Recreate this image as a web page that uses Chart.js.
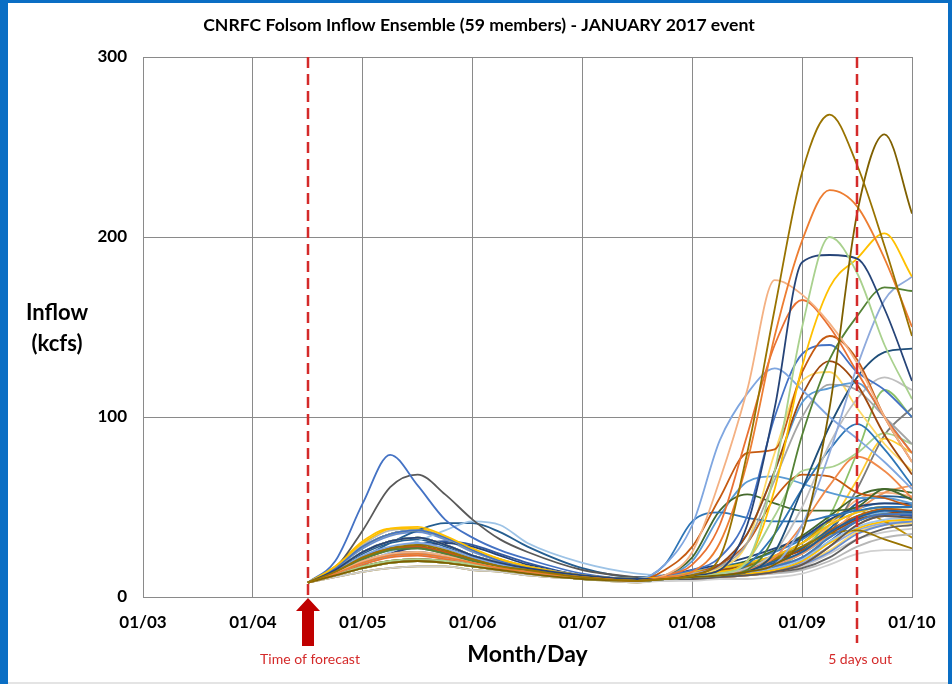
<!DOCTYPE html>
<html>
<head>
<meta charset="utf-8">
<script src="https://cdn.jsdelivr.net/npm/chart.js@4.4.1/dist/chart.umd.min.js"></script>
<style>
  html, body { margin: 0; padding: 0; background: #fff; }
</style>
</head>
<body>
<canvas id="ensembleChart" width="952" height="684"></canvas>
<script>
// days since 01/03 00:00 (forecast issued 01/04 12:00)
const times = [1.5, 1.75, 2.0, 2.25, 2.5, 2.75, 3.0, 3.25, 3.5, 4.0, 4.5,
               4.75, 5.0, 5.25, 5.5, 5.75, 6.0, 6.25, 6.5, 6.75, 7.0];
const tickLabels = ['01/03', '01/04', '01/05', '01/06', '01/07', '01/08', '01/09', '01/10'];
const forecastDay = 1.5;
const fiveDaysOutDay = 6.5;

// members that peak above ~150 kcfs
const peakMembers = [
  [8,14,22,27,29,26,21,17,15,11,9, 10,12,22,80,160,236,268,240,195,145],
  [8,12,16,19,20,19,17,15,13,10,9, 10,11,12,14,18,35,105,213,257,213],
  [8,13,19,23,24,22,19,16,14,11,9, 11,14,30,75,145,198,226,217,188,150],
  [8,12,17,20,21,20,18,15,13,10,9, 10,11,13,20,70,150,200,180,140,110],
  [8,15,25,31,33,29,23,19,16,12,10, 10,12,15,40,105,186,190,188,160,120],
  [8,13,20,24,25,23,19,16,14,11,9, 12,25,65,115,176,168,152,130,100,75],
  [8,17,30,38,39,34,27,21,17,12,10, 11,12,14,20,60,128,172,188,202,178],
  [8,14,21,26,27,24,20,17,15,11,9, 10,11,12,15,35,90,132,156,172,170],
  [8,13,19,23,24,22,19,16,14,11,9, 10,11,12,14,18,40,80,128,165,178],
  [8,12,18,22,23,21,18,16,14,11,9, 12,18,40,90,140,165,150,125,100,80]
];
const peakColors = ['#997300', '#7F6000', '#ED7D31', '#A9D18E', '#264478',
                    '#F4B183', '#FFC000', '#548235', '#8FAADC', '#E97132'];

// members peaking between ~45 and ~145 kcfs, plus the early-peak ones
const midMembers = [
  [8,14,23,28,30,27,22,18,15,11,10, 18,40,87,113,127,115,100,88,75,60],
  [8,14,22,27,28,25,21,17,15,11,9, 15,28,55,80,82,125,145,132,100,75],
  [8,12,17,20,21,20,18,15,13,10,9, 10,12,18,35,70,112,131,118,90,68],
  [8,16,28,35,37,33,26,20,17,12,10, 12,15,22,45,100,135,140,125,115,100],
  [8,13,19,23,25,23,20,17,14,11,9, 10,12,18,35,70,108,116,119,100,80],
  [8,14,22,27,28,25,21,17,15,11,9, 10,11,12,14,25,60,95,122,136,138],
  [8,15,25,31,33,29,23,19,16,12,10, 11,13,17,30,65,100,118,115,100,85],
  [8,13,19,23,24,22,19,16,14,11,9, 10,11,13,16,25,50,85,110,122,115],
  [8,16,28,35,37,33,26,20,17,12,10, 11,13,16,30,80,120,125,105,85,70],
  [8,14,22,27,28,25,21,17,15,11,9, 10,11,13,18,35,60,82,96,82,62],
  [8,13,19,23,24,22,19,16,14,11,9, 10,11,12,15,22,40,62,78,70,55],
  [8,12,16,19,20,19,17,15,13,10,9, 10,11,13,20,45,70,72,80,91,85],
  [8,16,28,35,37,33,26,20,17,12,10, 18,42,47,44,42,42,45,48,50,50],
  [8,13,19,23,24,22,19,16,14,11,9, 12,22,48,57,52,48,48,50,60,54],
  [8,14,22,27,28,25,21,17,15,11,9, 11,13,18,30,55,68,67,58,55,50],
  [8,15,25,31,33,29,23,19,16,12,10, 12,20,45,64,67,63,58,55,55,52],
  [8,20,52,79,62,43,33,26,21,13,10, 10,11,12,14,17,22,33,42,46,46],
  [8,16,37,61,68,57,43,32,25,15,11, 10,10,11,12,14,18,28,40,45,44],
  [8,13,19,25,31,37,42,40,30,19,13, 12,12,13,14,16,21,31,39,43,44],
  [8,14,22,30,37,41,41,36,28,16,11, 11,12,13,15,19,25,36,44,48,47],
  [8,17,31,38,38,33,26,21,17,12,10, 12,14,16,19,23,30,40,47,50,50]
];
const midColors = ['#7FA6E0', '#C55A11', '#9E480E', '#4472C4', '#5B9BD5',
                   '#1F4E79', '#A5A5A5', '#BFBFBF', '#FFD966', '#2E75B6',
                   '#F08A4B', '#A9D18E', '#2E75B6', '#43682B', '#C55A11',
                   '#5B9BD5', '#4472C4', '#595959', '#9DC3E6', '#255E91',
                   '#FFC000'];

// the main bundle
const bulkMembers = [
  [8,11,14,16,17,17,15,14,12,10,8, 9,9,10,10,11,13,18,24,26,26],
  [8,11,14,16,17,17,15,14,12,10,8, 10,12,14,17,21,28,35,37,32,27],
  [8,13,19,23,24,22,19,16,14,11,9, 11,12,13,15,19,25,36,44,48,47],
  [8,14,22,27,28,25,21,17,15,11,9, 10,10,11,12,14,18,28,40,45,44],
  [8,12,16,19,20,19,17,15,13,10,9, 10,11,12,14,17,22,33,42,46,46],
  [8,15,25,31,33,29,23,19,16,12,10, 10,11,12,13,15,20,30,38,42,43],
  [8,16,28,35,37,33,26,20,17,12,10, 12,14,16,19,23,30,40,47,50,50],
  [8,12,18,24,28,30,28,23,18,12,10, 12,15,18,22,27,33,43,50,52,52],
  [8,13,20,24,25,22,19,16,14,11,9, 11,13,15,17,21,26,35,43,46,48],
  [8,14,21,26,27,24,20,17,15,11,9, 10,11,12,13,14,16,22,32,38,40],
  [8,15,24,30,32,28,23,19,16,12,10, 11,12,14,16,20,27,38,52,56,55],
  [8,12,17,20,21,20,17,15,13,10,9, 11,13,16,20,26,34,45,56,60,58],
  [8,16,27,34,36,32,25,20,17,12,10, 10,11,12,13,15,18,25,35,40,42],
  [8,13,19,23,24,22,19,16,14,11,9, 10,11,13,15,18,24,35,48,58,62],
  [8,17,29,37,38,33,26,21,17,12,10, 9,10,11,12,13,15,20,28,33,35],
  [8,14,22,27,28,25,21,17,15,11,9, 10,11,12,14,18,25,40,65,88,80],
  [8,15,25,31,33,29,23,19,16,12,10, 11,12,13,15,18,24,34,43,47,47],
  [8,13,19,23,24,22,19,16,14,11,9, 10,11,12,14,17,25,45,80,115,100],
  [8,12,18,24,29,31,29,24,19,12,10, 10,11,12,13,16,21,31,42,46,45],
  [8,12,16,19,20,19,17,15,13,10,9, 11,12,14,16,20,27,37,45,49,48],
  [8,16,28,35,37,33,26,20,17,12,10, 10,11,12,13,15,20,35,60,90,105],
  [8,14,22,27,28,25,21,17,15,11,9, 11,13,15,18,22,30,42,48,42,33],
  [8,13,19,23,24,22,19,16,14,11,9, 12,14,17,20,25,32,42,49,52,51],
  [8,15,25,31,33,29,23,19,16,12,10, 11,13,15,18,22,28,37,45,49,50],
  [8,12,16,19,20,19,17,15,13,10,9, 10,11,12,13,15,19,28,37,41,42],
  [8,14,22,27,28,25,21,17,15,11,9, 11,12,14,17,21,28,40,54,58,56],
  [8,13,19,23,24,22,19,16,14,11,9, 10,10,11,12,14,17,24,32,36,38],
  [8,16,28,35,37,33,26,20,17,12,10, 10,11,12,13,15,18,26,36,40,41]
];
const bulkColors = ['#D0D0D0', '#997300', '#4472C4', '#ED7D31', '#70AD47',
                    '#FFC000', '#5B9BD5', '#264478', '#9E480E', '#636363',
                    '#255E91', '#43682B', '#698ED0', '#F1975A', '#B7B7B7',
                    '#FFCD33', '#7CAFDD', '#8CC168', '#335AA1', '#BC5B0C',
                    '#7C7C7C', '#BF9000', '#327DC2', '#5A8A39', '#8FAADC',
                    '#F4B183', '#C9C9C9', '#FFD966'];

const FONT = "Lato, 'Open Sans', sans-serif";
const gridColor = '#8A8A8A';
const red = '#D42A2A';

const datasets = [];
function addMembers(rows, colors) {
    rows.forEach((row, i) => {
        datasets.push({
            data: row.map((v, j) => ({ x: times[j], y: v })),
            borderColor: colors[i],
            borderWidth: 1.8,
            pointRadius: 0,
            fill: false,
            cubicInterpolationMode: 'monotone'
        });
    });
}
addMembers(peakMembers, peakColors);
addMembers(midMembers, midColors);
addMembers(bulkMembers, bulkColors);

const decorations = {
    id: 'decorations',
    beforeDraw(chart) {
        const ctx = chart.ctx;
        ctx.save();
        ctx.fillStyle = '#ffffff';
        ctx.fillRect(0, 0, chart.width, chart.height);
        ctx.restore();
    },
    afterDatasetsDraw(chart) {
        const ctx = chart.ctx;
        const area = chart.chartArea;
        const x = chart.scales.x;
        ctx.save();
        ctx.strokeStyle = red;
        ctx.lineWidth = 2.5;
        ctx.setLineDash([11, 6]);
        let px = Math.round(x.getPixelForValue(forecastDay));
        ctx.beginPath();
        ctx.moveTo(px, area.top);
        ctx.lineTo(px, area.bottom);
        ctx.stroke();
        px = Math.round(x.getPixelForValue(fiveDaysOutDay));
        ctx.beginPath();
        ctx.moveTo(px, area.top);
        ctx.lineTo(px, area.bottom + 46);
        ctx.stroke();
        ctx.restore();
    },
    afterDraw(chart) {
        const ctx = chart.ctx;
        const area = chart.chartArea;
        const x = chart.scales.x;
        ctx.save();

        // title
        ctx.fillStyle = '#000';
        ctx.textAlign = 'center';
        ctx.textBaseline = 'middle';
        ctx.font = 'bold 17.6px ' + FONT;
        ctx.fillText('CNRFC Folsom Inflow Ensemble (59 members) - JANUARY 2017 event', 479, 25);

        // axis titles
        ctx.font = 'bold 22px ' + FONT;
        ctx.fillText('Inflow', 57, 313);
        ctx.fillText('(kcfs)', 57, 344);
        ctx.font = 'bold 23px ' + FONT;
        ctx.fillText('Month/Day', (area.left + area.right) / 2, 655);

        // forecast arrow
        const fx = Math.round(x.getPixelForValue(forecastDay));
        const tip = area.bottom + 1;
        ctx.fillStyle = '#C00000';
        ctx.beginPath();
        ctx.moveTo(fx, tip);
        ctx.lineTo(fx + 12, tip + 13);
        ctx.lineTo(fx + 6, tip + 13);
        ctx.lineTo(fx + 6, tip + 48);
        ctx.lineTo(fx - 6, tip + 48);
        ctx.lineTo(fx - 6, tip + 13);
        ctx.lineTo(fx - 12, tip + 13);
        ctx.closePath();
        ctx.fill();

        ctx.fillStyle = red;
        ctx.font = '14px ' + FONT;
        ctx.fillText('Time of forecast', fx + 2, 659);
        ctx.fillText('5 days out', x.getPixelForValue(fiveDaysOutDay) + 3, 659);

        // slide frame
        ctx.fillStyle = '#0A6EC4';
        ctx.fillRect(0, 0, 8, chart.height);
        ctx.fillRect(0, 0, chart.width, 3);
        ctx.fillRect(chart.width - 4, 0, 4, chart.height);
        ctx.fillStyle = '#E4E4E4';
        ctx.fillRect(8, chart.height - 2, chart.width - 12, 2);
        ctx.restore();
    }
};

const ctx = document.getElementById('ensembleChart').getContext('2d');
const myChart = new Chart(ctx, {
    type: 'line',
    data: { datasets: datasets },
    options: {
        responsive: false,
        animation: false,
        layout: { padding: { left: 0, right: 40, top: 57, bottom: 0 } },
        plugins: {
            legend: { display: false },
            tooltip: { enabled: false },
            title: { display: false }
        },
        scales: {
            x: {
                type: 'linear',
                min: 0,
                max: 7,
                afterFit: scale => { scale.height = 87; },
                ticks: {
                    stepSize: 1,
                    padding: 15,
                    color: '#000',
                    font: { family: FONT, size: 17, weight: 'bold' },
                    callback: value => tickLabels[value]
                },
                grid: { color: gridColor, lineWidth: 1, drawTicks: false },
                border: { color: gridColor, width: 1 }
            },
            y: {
                min: 0,
                max: 300,
                afterFit: scale => { scale.width = 143; },
                ticks: {
                    stepSize: 100,
                    padding: 16,
                    color: '#000',
                    font: { family: FONT, size: 17, weight: 'bold' }
                },
                grid: { color: gridColor, lineWidth: 1, drawTicks: false },
                border: { color: gridColor, width: 1 }
            }
        }
    },
    plugins: [decorations]
});
</script>
</body>
</html>
